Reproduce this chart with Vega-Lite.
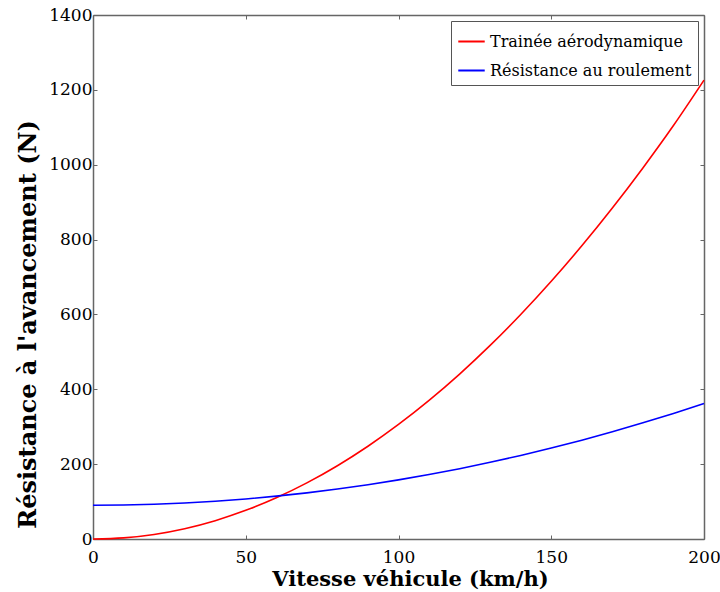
{
  "$schema": "https://vega.github.io/schema/vega-lite/v6.json",
  "autosize": "none",
  "width": 611,
  "height": 524,
  "padding": {"left": 93, "top": 15, "right": 16, "bottom": 53},
  "background": "white",
  "config": {
    "view": {"stroke": null},
    "axis": {"grid": false, "domainColor": "#666666", "domainWidth": 1.5, "tickColor": "#666666", "tickSize": -4, "labelFont": "DejaVu Serif", "labelFontSize": 17, "labelColor": "black", "titleFont": "DejaVu Serif", "titleFontWeight": "bold", "titleColor": "black", "labelPadding": 5, "labelFlush": false, "labelOverlap": false, "format": "d"}
  },
  "data": {"values": [
    {"v": 0, "F": 0, "s": "Trainée aérodynamique"},
    {"v": 10, "F": 3.06, "s": "Trainée aérodynamique"},
    {"v": 20, "F": 12.24, "s": "Trainée aérodynamique"},
    {"v": 30, "F": 27.54, "s": "Trainée aérodynamique"},
    {"v": 40, "F": 48.96, "s": "Trainée aérodynamique"},
    {"v": 50, "F": 76.5, "s": "Trainée aérodynamique"},
    {"v": 60, "F": 110.16, "s": "Trainée aérodynamique"},
    {"v": 70, "F": 149.94, "s": "Trainée aérodynamique"},
    {"v": 80, "F": 195.84, "s": "Trainée aérodynamique"},
    {"v": 90, "F": 247.86, "s": "Trainée aérodynamique"},
    {"v": 100, "F": 306, "s": "Trainée aérodynamique"},
    {"v": 110, "F": 370.26, "s": "Trainée aérodynamique"},
    {"v": 120, "F": 440.64, "s": "Trainée aérodynamique"},
    {"v": 130, "F": 517.14, "s": "Trainée aérodynamique"},
    {"v": 140, "F": 599.76, "s": "Trainée aérodynamique"},
    {"v": 150, "F": 688.5, "s": "Trainée aérodynamique"},
    {"v": 160, "F": 783.36, "s": "Trainée aérodynamique"},
    {"v": 170, "F": 884.34, "s": "Trainée aérodynamique"},
    {"v": 180, "F": 991.44, "s": "Trainée aérodynamique"},
    {"v": 190, "F": 1104.66, "s": "Trainée aérodynamique"},
    {"v": 200, "F": 1226, "s": "Trainée aérodynamique"},
    {"v": 0, "F": 90, "s": "Résistance au roulement"},
    {"v": 10, "F": 90.68, "s": "Résistance au roulement"},
    {"v": 20, "F": 92.72, "s": "Résistance au roulement"},
    {"v": 30, "F": 96.12, "s": "Résistance au roulement"},
    {"v": 40, "F": 100.88, "s": "Résistance au roulement"},
    {"v": 50, "F": 107, "s": "Résistance au roulement"},
    {"v": 60, "F": 114.48, "s": "Résistance au roulement"},
    {"v": 70, "F": 123.32, "s": "Résistance au roulement"},
    {"v": 80, "F": 133.52, "s": "Résistance au roulement"},
    {"v": 90, "F": 145.08, "s": "Résistance au roulement"},
    {"v": 100, "F": 158, "s": "Résistance au roulement"},
    {"v": 110, "F": 172.28, "s": "Résistance au roulement"},
    {"v": 120, "F": 187.92, "s": "Résistance au roulement"},
    {"v": 130, "F": 204.92, "s": "Résistance au roulement"},
    {"v": 140, "F": 223.28, "s": "Résistance au roulement"},
    {"v": 150, "F": 243, "s": "Résistance au roulement"},
    {"v": 160, "F": 264.08, "s": "Résistance au roulement"},
    {"v": 170, "F": 286.52, "s": "Résistance au roulement"},
    {"v": 180, "F": 310.32, "s": "Résistance au roulement"},
    {"v": 190, "F": 335.48, "s": "Résistance au roulement"},
    {"v": 200, "F": 362, "s": "Résistance au roulement"}
  ]},
  "layer": [
    {
      "mark": {"type": "line", "strokeWidth": 1.6, "interpolate": "monotone"},
      "encoding": {
        "x": {"field": "v", "type": "quantitative", "scale": {"domain": [0, 200], "nice": false}, "axis": {"title": "Vitesse véhicule (km/h)", "titleFontSize": 21, "titleX": 317, "values": [0, 50, 100, 150, 200], "labelPadding": 14, "titlePadding": 3}},
        "y": {"field": "F", "type": "quantitative", "scale": {"domain": [0, 1400], "nice": false}, "axis": {"title": "Résistance à l'avancement (N)", "titleFontSize": 24, "titleY": 309, "values": [0, 200, 400, 600, 800, 1000, 1200, 1400], "titlePadding": 8}},
        "color": {"field": "s", "type": "nominal", "sort": ["Trainée aérodynamique", "Résistance au roulement"], "scale": {"domain": ["Trainée aérodynamique", "Résistance au roulement"], "range": ["#ff0000", "#0000ff"]},
          "legend": {"title": null, "orient": "top-right", "offset": 6, "labelFont": "DejaVu Serif", "labelFontSize": 16, "labelLimit": 400, "labelColor": "black", "symbolType": "stroke", "symbolSize": 700, "symbolStrokeWidth": 2, "strokeColor": "#555555", "fillColor": "white", "padding": 6, "rowPadding": 6, "labelOffset": 4}},
        "detail": {"field": "s"}
      }
    },
    {
      "mark": {"type": "line", "opacity": 0},
      "encoding": {
        "x": {"field": "v", "type": "quantitative", "axis": {"orient": "top", "title": null, "labels": false, "values": [0, 50, 100, 150, 200]}},
        "y": {"field": "F", "type": "quantitative", "axis": {"orient": "right", "title": null, "labels": false, "values": [0, 200, 400, 600, 800, 1000, 1200, 1400]}}
      }
    }
  ],
  "resolve": {"axis": {"x": "independent", "y": "independent"}}
}
